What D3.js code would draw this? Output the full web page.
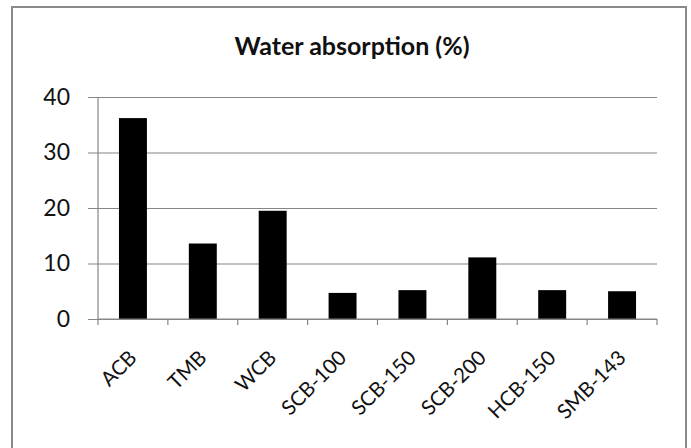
<!DOCTYPE html>
<html>
<head>
<meta charset="utf-8">
<script src="https://cdn.jsdelivr.net/npm/d3@7"></script>
<style>
  html, body { margin: 0; padding: 0; background: #fff; }
  svg { display: block; }
</style>
</head>
<body>
<svg id="chart" width="691" height="448"></svg>
<script>
// Water absorption of each block type
const categories = ["ACB", "TMB", "WCB", "SCB-100", "SCB-150", "SCB-200", "HCB-150", "SMB-143"];
const absorption = [36.2, 13.6, 19.5, 4.7, 5.2, 11.1, 5.2, 5.0];
const yTicks = [0, 10, 20, 30, 40];
const title = "Water absorption (%)";

const svg = d3.select("#chart");
const font = "Lato, 'Open Sans', sans-serif";
const gridColor = "#868686";

const plot = { left: 98, right: 657, top: 97, bottom: 319 };

// Outer chart frame
svg.append("rect")
  .attr("x", 12).attr("y", 7)
  .attr("width", 674).attr("height", 460)
  .attr("fill", "#fff")
  .attr("stroke", "#8a8a8a")
  .attr("stroke-width", 2);

const x = d3.scaleBand()
  .domain(categories)
  .range([plot.left, plot.right])
  .paddingInner(0.6)
  .paddingOuter(0.3);

const y = d3.scaleLinear()
  .domain([0, 40])
  .range([plot.bottom, plot.top]);

// Horizontal gridlines with y ticks
const yAxis = d3.axisLeft(y)
  .tickValues(yTicks)
  .tickSize(-(plot.right - plot.left))
  .tickPadding(28)
  .tickFormat(d3.format("d"));

const gy = svg.append("g")
  .attr("transform", `translate(${plot.left},0)`)
  .call(yAxis);
gy.select(".domain").remove();
gy.selectAll(".tick line")
  .attr("x1", -10)
  .attr("stroke", gridColor)
  .attr("stroke-width", 1.2);
gy.selectAll(".tick text")
  .attr("font-family", font)
  .attr("font-size", 23)
  .attr("fill", "#111");

// Vertical axis line
svg.append("line")
  .attr("x1", plot.left).attr("x2", plot.left)
  .attr("y1", plot.top).attr("y2", plot.bottom)
  .attr("stroke", gridColor).attr("stroke-width", 1.2);

// Bars
svg.append("g")
  .selectAll("rect")
  .data(categories)
  .join("rect")
  .attr("x", d => x(d))
  .attr("y", (d, i) => y(absorption[i]))
  .attr("width", x.bandwidth())
  .attr("height", (d, i) => y(0) - y(absorption[i]))
  .attr("fill", "#000");

// Category axis: tick marks on category boundaries
const step = x.step();
const boundaries = d3.range(categories.length + 1).map(i => plot.left + i * step);
svg.append("line")
  .attr("x1", plot.left).attr("x2", plot.right)
  .attr("y1", plot.bottom).attr("y2", plot.bottom)
  .attr("stroke", gridColor).attr("stroke-width", 1.2);
svg.append("g")
  .selectAll("line")
  .data(boundaries)
  .join("line")
  .attr("x1", d => d).attr("x2", d => d)
  .attr("y1", plot.bottom).attr("y2", plot.bottom + 6)
  .attr("stroke", gridColor).attr("stroke-width", 1.2);

// Rotated category labels
svg.append("g")
  .selectAll("text")
  .data(categories)
  .join("text")
  .attr("transform", d => `translate(${x(d) + x.bandwidth() / 2 + 5},359) rotate(-45)`)
  .attr("text-anchor", "end")
  .attr("font-family", font)
  .attr("font-size", 20.5)
  .attr("fill", "#111")
  .text(d => d);

// Title
svg.append("text")
  .attr("x", 352).attr("y", 55)
  .attr("text-anchor", "middle")
  .attr("font-family", font)
  .attr("font-weight", 700)
  .attr("font-size", 25)
  .attr("fill", "#111")
  .text(title);
</script>
</body>
</html>
